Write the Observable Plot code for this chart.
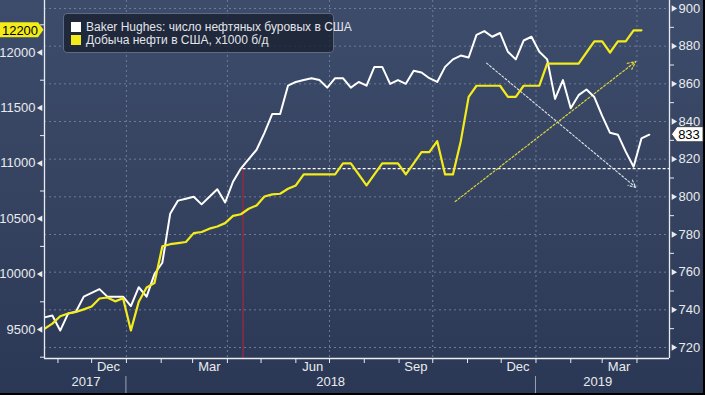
<!DOCTYPE html>
<html>
<head>
<meta charset="utf-8">
<script src="https://cdn.jsdelivr.net/npm/d3@7"></script>
<script src="https://cdn.jsdelivr.net/npm/@observablehq/plot@0.6"></script>
<style>
  body { margin: 0; background: #000; }
  #wrap { position: relative; width: 705px; height: 395px; background: #000; overflow: hidden;
          font-family: "Liberation Sans", Arial, sans-serif; }
  #legend { position: absolute; left: 63px; top: 13px; width: 271px; height: 40px; box-sizing: border-box;
            border: 1px solid #5f6a85; border-radius: 4px; background: rgba(24, 31, 47, 0.78);
            color: #e2e5ea; font-size: 12px; }
  .row { position: absolute; left: 7px; display: flex; align-items: center; white-space: nowrap; height: 12px; }
  .sw { width: 10px; height: 10px; margin-right: 5px; }
</style>
</head>
<body>
<div id="wrap">
  <div id="chart"></div>
  <div id="legend">
    <div class="row" style="top:7px"><span class="sw" style="background:#ffffff"></span><span id="l1"></span></div>
    <div class="row" style="top:20px"><span class="sw" style="background:#f4ec1a"></span><span id="l2"></span></div>
  </div>
</div>
<script>
// ---------- DATA ----------
const seriesNames = ["Baker Hughes: число нефтяных буровых в США", "Добыча нефти в США, x1000 б/д"];
// weekly Fridays from 2017-10-20
const weeks = d3.range(78).map(i => new Date(Date.UTC(2017, 9, 20 + 7 * i)));
const rigCount = [736, 737, 729, 738, 739, 747, 749, 751, 747, 747, 747, 742, 752, 747, 759, 765, 791, 798, 799, 800,
  796, 800, 804, 797, 808, 815, 820, 825, 834, 844, 844, 859, 861, 862, 863, 862, 858, 863, 863, 858,
  861, 859, 869, 869, 860, 862, 860, 867, 866, 863, 861, 869, 873, 875, 874, 886, 888, 885, 887, 877,
  873, 883, 885, 877, 873, 852, 862, 847, 854, 857, 853, 843, 834, 833, 824, 816, 831, 833];
const oilProduction = [9507, 9553, 9620, 9645, 9658, 9682, 9707, 9780, 9789, 9754, 9782, 9492, 9750, 9879, 9919, 10250,
  10270, 10280, 10290, 10370, 10380, 10410, 10430, 10460, 10525, 10540, 10590, 10620, 10700, 10720, 10725, 10770,
  10800, 10900, 10900, 10900, 10900, 10900, 11000, 11000, 10900, 10800, 10900, 11000, 11000, 11000, 10900, 11000,
  11100, 11100, 11200, 10900, 10900, 11200, 11600, 11700, 11700, 11700, 11700, 11600, 11600, 11700, 11700, 11700,
  11900, 11900, 11900, 11900, 11900, 12000, 12100, 12100, 12000, 12100, 12100, 12200, 12200];
const rigTicks = [720, 740, 760, 780, 800, 820, 840, 860, 880, 900];
const rigMinorTicks = [730, 750, 770, 790, 810, 830, 850, 870, 890];
const prodTicks = [9500, 10000, 10500, 11000, 11500, 12000];
const prodMinorTicks = [9250, 9750, 10250, 10750, 11250, 11750, 12250];
const monthLabels = [
  {date: "2017-12-16", text: "Dec"}, {date: "2018-03-16", text: "Mar"}, {date: "2018-06-16", text: "Jun"},
  {date: "2018-09-16", text: "Sep"}, {date: "2018-12-16", text: "Dec"}, {date: "2019-03-16", text: "Mar"}];
const yearLabels = [
  {date: "2017-11-26", text: "2017"}, {date: "2018-07-02", text: "2018"}, {date: "2019-02-25", text: "2019"}];
const yearStarts = ["2018-01-01", "2019-01-01"];
const gridDates = ["2018-01-01", "2018-04-01", "2018-07-01", "2018-10-01", "2019-01-01", "2019-04-01"];
const markerDate = "2018-04-15";
const markerRig = 815;
const rigTrendArrow = [{x1: "2018-11-18", y1: 871, x2: "2019-03-31", y2: 805}];
const prodTrendArrow = [{x1: "2018-10-21", y1: 10655, x2: "2019-03-31", y2: 11919}];

// ---------- SCALES ----------
const xDomain = [new Date("2017-10-20"), new Date("2019-04-30")];
const rigDomain = [714.16, 904.25];
const prodDomain = [9238.3, 12469.3];
const toRig = p => rigDomain[0] + (p - prodDomain[0]) * (rigDomain[1] - rigDomain[0]) / (prodDomain[1] - prodDomain[0]);
const fromRig = r => prodDomain[0] + (r - rigDomain[0]) * (prodDomain[1] - prodDomain[0]) / (rigDomain[1] - rigDomain[0]);
const D = s => new Date(s);

const rigData = weeks.map((d, i) => ({date: d, v: rigCount[i]}));
const prodData = oilProduction.map((v, i) => ({date: weeks[i], v: toRig(v)}));

const grid = "#6b7b9a";
const white = "#e9ebef";
const yellow = "#f4ec1a";

const chart = Plot.plot({
  width: 703,
  height: 393,
  marginLeft: 44,
  marginRight: 34,
  marginTop: 0,
  marginBottom: 35,
  style: {
    background: "linear-gradient(180deg, #3e4c6c 0%, #34425f 55%, #2b3855 100%)",
    color: white,
    fontFamily: "'Liberation Sans', Arial, sans-serif",
    fontSize: "13px",
    overflow: "visible"
  },
  x: {type: "utc", domain: xDomain},
  y: {domain: rigDomain},
  marks: [
    // grid
    Plot.ruleY(rigTicks, {stroke: grid, strokeDasharray: "2,3", strokeWidth: 1}),
    Plot.ruleX(gridDates.map(D), {stroke: grid, strokeDasharray: "2,3", strokeWidth: 1}),
    // marker
    Plot.ruleX([D(markerDate)], {y1: rigDomain[0], y2: markerRig, stroke: "#8e2c40", strokeWidth: 1.5}),
    Plot.ruleY([markerRig], {x1: D(markerDate), x2: xDomain[1], stroke: "#ffffff", strokeDasharray: "3,2", strokeWidth: 1.2}),
    // trend arrows
    Plot.arrow(rigTrendArrow, {x1: d => D(d.x1), y1: "y1", x2: d => D(d.x2), y2: "y2",
      stroke: "#dfe3ea", strokeWidth: 1.1, strokeDasharray: "2,2", headLength: 11, headAngle: 50}),
    Plot.arrow(prodTrendArrow, {x1: d => D(d.x1), y1: d => toRig(d.y1), x2: d => D(d.x2), y2: d => toRig(d.y2),
      stroke: "#d9d43a", strokeWidth: 1.2, strokeDasharray: "2,2", headLength: 11, headAngle: 50}),
    // series
    Plot.line(rigData, {x: "date", y: "v", stroke: "#ffffff", strokeWidth: 2, clip: true}),
    Plot.line(prodData, {x: "date", y: "v", stroke: yellow, strokeWidth: 2.2, clip: true}),
    // axis lines
    Plot.ruleX([xDomain[0], xDomain[1]], {stroke: white, strokeWidth: 1.3}),
    Plot.ruleY([rigDomain[0]], {stroke: white, strokeWidth: 1.5}),
    // right axis
    Plot.axisY(rigTicks, {anchor: "right", tickSize: 0, tickPadding: 9, label: null, fontSize: 13}),
    Plot.axisY(rigMinorTicks, {anchor: "right", tickSize: 4, tickFormat: () => "", label: null}),
    Plot.dot(rigTicks, {y: d => d, frameAnchor: "right", symbol: "triangle2", rotate: 90, r: 3, dx: 4, fill: white}),
    // left axis
    Plot.axisY(prodTicks.map(toRig), {anchor: "left", tickSize: 0, tickPadding: 9, label: null, fontSize: 13,
      tickFormat: d => String(Math.round(fromRig(d)))}),
    Plot.axisY(prodMinorTicks.map(toRig), {anchor: "left", tickSize: 4, tickFormat: () => "", label: null}),
    Plot.dot(prodTicks, {y: p => toRig(p), frameAnchor: "left", symbol: "triangle2", rotate: -90, r: 3, dx: -4, fill: white}),
    // bottom axis
    Plot.axisX(d3.utcMonth.range(D("2017-11-01"), xDomain[1]), {anchor: "bottom", tickSize: 5, tickFormat: () => "", label: null}),
    Plot.text(monthLabels, {x: d => D(d.date), text: "text", frameAnchor: "bottom", dy: 12, fontSize: 13, fill: white}),
    Plot.text(yearLabels, {x: d => D(d.date), text: "text", frameAnchor: "bottom", dy: 27, fontSize: 13, fill: white})
  ]
});

document.getElementById("chart").appendChild(chart);
document.getElementById("l1").textContent = seriesNames[0];
document.getElementById("l2").textContent = seriesNames[1];

// year separators and value badges placed through the plot's scales
const xs = chart.scale("x"), ys = chart.scale("y");
const svg = d3.select(chart);
yearStarts.forEach(s => {
  const x = xs.apply(D(s));
  svg.append("line").attr("x1", x).attr("x2", x).attr("y1", 376).attr("y2", 393)
    .attr("stroke", "#9aa3b5").attr("stroke-width", 1);
});
const lastProd = oilProduction[oilProduction.length - 1];
const yl = ys.apply(toRig(lastProd));
svg.append("path").attr("d", `M0,${yl - 7.5}H38L43.5,${yl}L38,${yl + 7.5}H0Z`).attr("fill", yellow);
svg.append("text").attr("x", 20).attr("y", yl).attr("dy", "0.36em").attr("text-anchor", "middle")
  .attr("fill", "#000").attr("font-size", 13).attr("font-family", "'Liberation Sans', Arial, sans-serif").text(lastProd);
const lastRig = rigCount[rigCount.length - 1];
const yr = ys.apply(lastRig);
svg.append("path").attr("d", `M671.5,${yr}L677,${yr - 7.5}H703V${yr + 7.5}H677Z`).attr("fill", "#fff")
  .attr("stroke", "#333").attr("stroke-width", 0.8);
svg.append("text").attr("x", 689).attr("y", yr).attr("dy", "0.36em").attr("text-anchor", "middle")
  .attr("fill", "#000").attr("font-size", 13).attr("font-family", "'Liberation Sans', Arial, sans-serif").text(lastRig);
</script>
</body>
</html>
